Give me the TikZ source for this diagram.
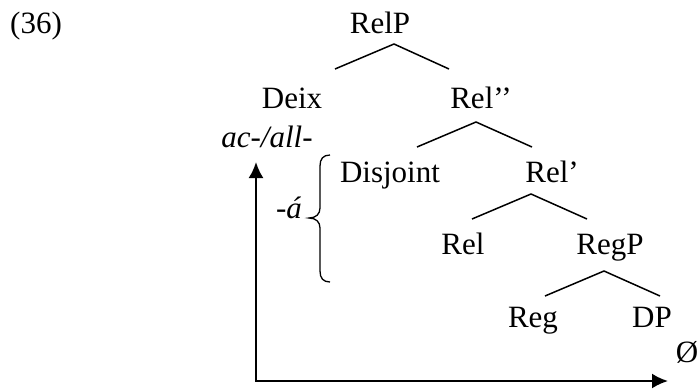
\documentclass[tikz,border=0pt]{standalone}
\usepackage{fontspec}
\setmainfont{Liberation Serif}
\usetikzlibrary{arrows.meta}
\begin{document}
\begin{tikzpicture}[x=1pt,y=-1pt,
  lbl/.style={anchor=base,inner sep=0pt,font=\fontsize{31}{37}\selectfont},
  branch/.style={line width=1.5pt},
  axis/.style={line width=2.2pt,{Latex[length=16pt,width=15pt]}-{Latex[length=16pt,width=15pt]}},
  bracestyle/.style={line width=1.3pt}]
\useasboundingbox (0,0) rectangle (700,389);
% labels
\node[lbl,anchor=base west] (num) at (10,33) {(36)};
\node[lbl] (relp) at (380,33) {RelP};
\node[lbl] (deix) at (292,108) {Deix};
\node[lbl] (acall) at (267,147) {\itshape ac-/all-};
\node[lbl] (relpp) at (481,108) {Rel’’};
\node[lbl] (disj) at (390,182) {Disjoint};
\node[lbl] (relb) at (552,182) {Rel’};
\node[lbl] (rel) at (463,254) {Rel};
\node[lbl] (regp) at (610,254) {RegP};
\node[lbl] (reg) at (533,327) {Reg};
\node[lbl] (dp) at (652,327) {DP};
\node[lbl] (empty) at (687,362) {Ø};
\node[lbl] (acute) at (289,218) {\itshape -á};
% branch points
\coordinate (a1) at (394,44); \coordinate (l1) at (335,69); \coordinate (r1) at (449,69);
\coordinate (a2) at (476,122); \coordinate (l2) at (417,147); \coordinate (r2) at (532,147);
\coordinate (a3) at (531,194); \coordinate (l3) at (472,219); \coordinate (r3) at (587,219);
\coordinate (a4) at (604,271); \coordinate (l4) at (545,296); \coordinate (r4) at (660,296);
\draw[branch] (l1) -- (a1) -- (r1);
\draw[branch] (l2) -- (a2) -- (r2);
\draw[branch] (l3) -- (a3) -- (r3);
\draw[branch] (l4) -- (a4) -- (r4);
% axes
\coordinate (vtip) at (256,162);
\coordinate (corner) at (256,381);
\coordinate (htip) at (668,381);
\draw[axis] (vtip) -- (corner) -- (htip);
% brace
\coordinate (btop) at (330,155);
\coordinate (bmid) at (309,218);
\coordinate (bbot) at (330,282);
\draw[bracestyle] (btop) .. controls (323,155) and (320,159) .. (320,166)
  -- (320,208) .. controls (320,214) and (316,218) .. (bmid)
  .. controls (316,218) and (320,222) .. (320,228)
  -- (320,271) .. controls (320,278) and (323,282) .. (bbot);
\end{tikzpicture}
\end{document}
